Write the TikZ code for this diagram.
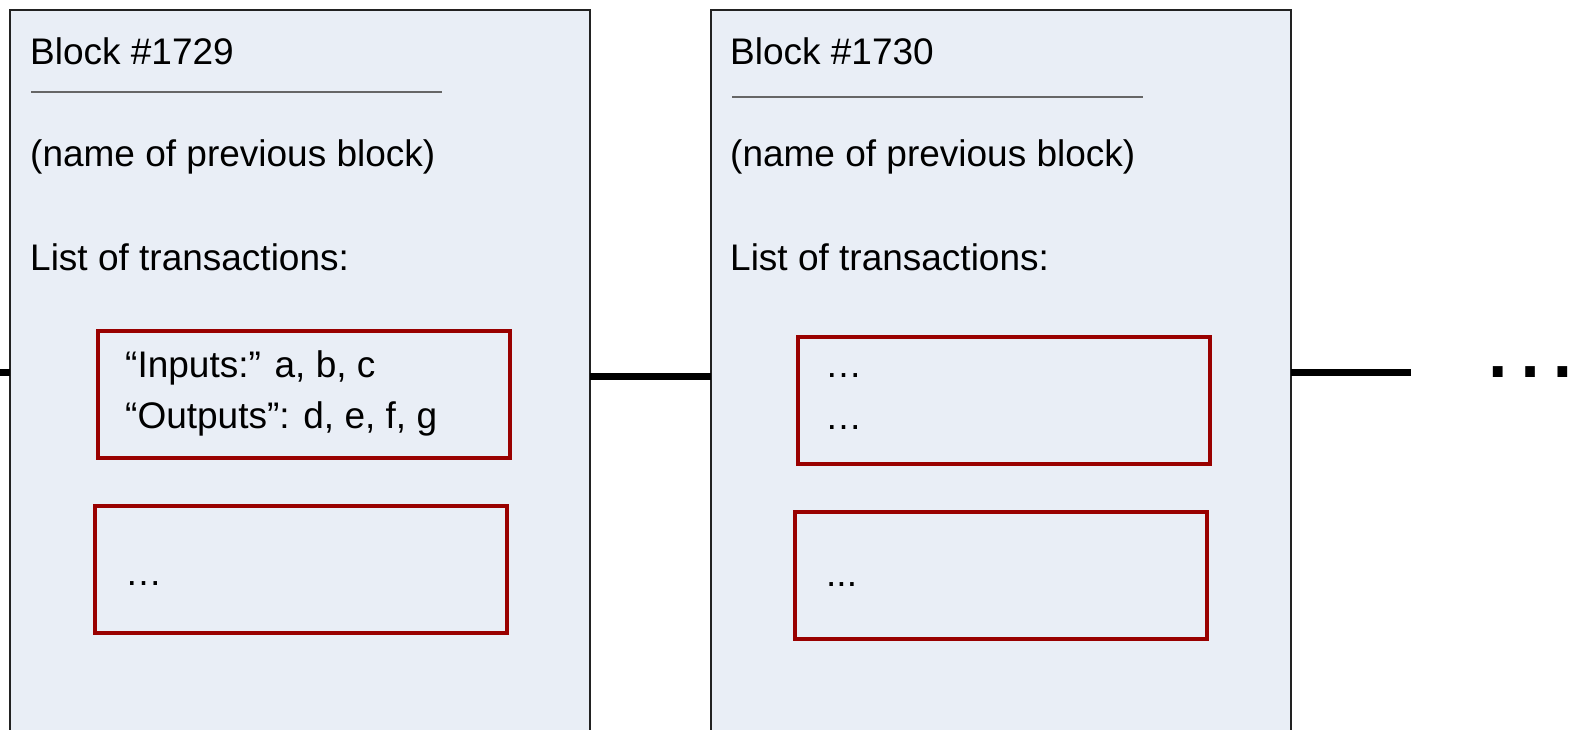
\documentclass[tikz,border=0pt]{standalone}
\usepackage{fontspec}
\setmainfont{Liberation Sans}
\definecolor{blockfill}{HTML}{E9EEF6}
\definecolor{txred}{HTML}{990000}
\definecolor{sepgray}{HTML}{666666}
\definecolor{edgedark}{HTML}{222222}
\begin{document}
\begin{tikzpicture}[x=1pt,y=-1pt,
  blockbox/.style={draw=edgedark, line width=2pt, fill=blockfill, anchor=north west,
    minimum width=580pt, minimum height=740pt, inner sep=0pt, outer sep=0pt},
  txbox/.style={draw=txred, line width=3.5pt, anchor=north west,
    minimum width=412pt, minimum height=127pt, inner sep=0pt, outer sep=0pt},
  lbl/.style={anchor=base west, inner sep=0pt, font=\fontsize{37}{44}\selectfont},
  bigdots/.style={anchor=base west, inner sep=0pt, font=\fontsize{102}{112}\selectfont},
  link/.style={line width=7pt},
  sepline/.style={draw=sepgray, line width=1.6pt}]
\useasboundingbox (0,0) rectangle (1575,729);
\clip (0,0) rectangle (1575,729);

% blocks
\node[blockbox] (b1) at (10,10) {};
\node[blockbox] (b2) at (711,10) {};

% block 1 contents
\node[lbl] (t1) at (30,64) {Block \#1729};
\coordinate (s1a) at (31,92);
\coordinate (s1b) at (442,92);
\draw[sepline] (s1a) -- (s1b);
\node[lbl] (p1) at (30,166) {(name of previous block)};
\node[lbl] (l1) at (30,270) {List of transactions:};
\node[txbox] (r1) at (98,331) {};
\node[lbl] (i1) at (125,377) {“Inputs:” a, b, c};
\node[lbl] (o1) at (125,428) {“Outputs”: d, e, f, g};
\node[txbox] (r2) at (95,506) {};
\node[lbl] (e1) at (125,585) {…};

% block 2 contents
\node[lbl] (t2) at (730,64) {Block \#1730};
\coordinate (s2a) at (732,97);
\coordinate (s2b) at (1143,97);
\draw[sepline] (s2a) -- (s2b);
\node[lbl] (p2) at (730,166) {(name of previous block)};
\node[lbl] (l2) at (730,270) {List of transactions:};
\node[txbox] (r3) at (798,337) {};
\node[lbl] (e2) at (825,377) {…};
\node[lbl] (e3) at (825,429) {…};
\node[txbox] (r4) at (795,512) {};
\node[lbl] (e4) at (826,586) {...};

% connectors
\coordinate (lstart) at (0,372);
\coordinate (mid) at (650,376);
\coordinate (rend) at (1411,372);
\draw[link] (lstart) -- (lstart -| b1.west);
\draw[link] (mid -| b1.east) -- (mid -| b2.west);
\draw[link] (rend -| b2.east) -- (rend);
\node[bigdots] (more) at (1479,377) {\makebox[0.84em][l]{…}};
\end{tikzpicture}
\end{document}
